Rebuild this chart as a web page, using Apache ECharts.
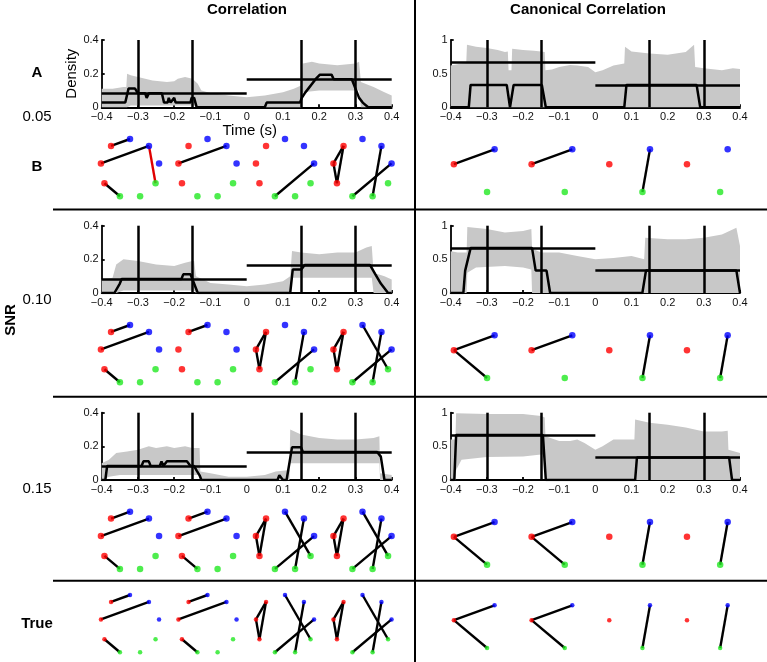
<!DOCTYPE html>
<html><head><meta charset="utf-8">
<script src="https://cdn.jsdelivr.net/npm/echarts@6/dist/echarts.min.js"></script>
<style>html,body{margin:0;padding:0;background:#fff}#c{width:767px;height:662px}</style>
</head><body><div id="c"></div>
<script>
const FONT = 'Liberation Sans';

// ---------------- time-course data ----------------
const stimTimes = [-0.3, -0.15, 0.15, 0.3];
const corrTrueDensity = [0.0833, 0.1667];   // before 0, after 0
const canonTrueDensity = [0.6667, 0.3333];

// Correlation, SNR 0.05
const corr05Hi = [[-0.4,0.11],[-0.37,0.11],[-0.34,0.12],[-0.332,0.12],[-0.33,0.2],[-0.32,0.19],[-0.3,0.18],[-0.28,0.17],[-0.26,0.16],[-0.24,0.155],[-0.22,0.15],[-0.2,0.155],[-0.19,0.17],[-0.17,0.18],[-0.15,0.17],[-0.135,0.14],[-0.125,0.1],[-0.1,0.085],[-0.05,0.07],[0,0.06],[0.05,0.07],[0.1,0.09],[0.13,0.11],[0.15,0.13],[0.155,0.26],[0.18,0.27],[0.2,0.26],[0.25,0.25],[0.3,0.26],[0.31,0.27],[0.315,0.15],[0.35,0.12],[0.38,0.09],[0.4,0.07]];
const corr05Lo = [[-0.4,0],[-0.33,0],[-0.32,0.01],[-0.14,0.01],[-0.13,0],[0.15,0],[0.155,0.09],[0.2,0.1],[0.25,0.1],[0.31,0.1],[0.315,0],[0.4,0]];
const corr05Med = [[-0.4,0.028],[-0.335,0.028],[-0.326,0.111],[-0.308,0.111],[-0.3,0.083],[-0.28,0.083],[-0.276,0.056],[-0.27,0.083],[-0.234,0.083],[-0.228,0.028],[-0.218,0.028],[-0.215,0.056],[-0.21,0.028],[-0.205,0.028],[-0.2,0.056],[-0.196,0.028],[-0.155,0.028],[-0.152,0.056],[-0.145,0.056],[-0.138,0],[0.05,0],[0.055,0.028],[0.147,0.028],[0.152,0.056],[0.16,0.083],[0.17,0.111],[0.19,0.167],[0.202,0.194],[0.234,0.194],[0.24,0.167],[0.29,0.167],[0.3,0.111],[0.31,0.056],[0.32,0.028],[0.335,0],[0.4,0]];

// Canonical correlation, SNR 0.05
const canon05Hi = [[-0.4,0.62],[-0.37,0.65],[-0.357,0.66],[-0.355,0.93],[-0.33,0.9],[-0.3,0.88],[-0.27,0.85],[-0.25,0.82],[-0.242,0.83],[-0.24,0.55],[-0.232,0.55],[-0.23,0.87],[-0.2,0.85],[-0.17,0.84],[-0.15,0.83],[-0.14,0.82],[-0.138,0.55],[-0.12,0.56],[-0.1,0.6],[-0.07,0.63],[-0.05,0.62],[-0.02,0.6],[0,0.52],[0.02,0.55],[0.05,0.62],[0.08,0.65],[0.082,0.9],[0.1,0.83],[0.15,0.8],[0.2,0.78],[0.25,0.82],[0.273,0.93],[0.276,0.6],[0.3,0.58],[0.35,0.55],[0.38,0.58],[0.4,0.57]];
const canon05Lo = [[-0.4,0],[0.4,0]];
const canon05Med = [[-0.4,0],[-0.35,0],[-0.345,0.333],[-0.245,0.333],[-0.236,0],[-0.232,0],[-0.226,0.333],[-0.148,0.333],[-0.137,0],[0.08,0],[0.086,0.333],[0.28,0.333],[0.29,0],[0.4,0]];

// Correlation, SNR 0.10
const corr10Hi = [[-0.4,0.08],[-0.37,0.09],[-0.36,0.17],[-0.34,0.2],[-0.3,0.19],[-0.25,0.17],[-0.2,0.16],[-0.17,0.18],[-0.15,0.19],[-0.145,0.19],[-0.14,0.1],[-0.12,0.08],[-0.1,0.06],[-0.05,0.05],[0,0.04],[0.05,0.05],[0.1,0.07],[0.12,0.1],[0.125,0.25],[0.15,0.24],[0.2,0.23],[0.25,0.24],[0.3,0.24],[0.33,0.27],[0.345,0.28],[0.35,0.12],[0.38,0.1],[0.4,0.08]];
const corr10Lo = [[-0.4,0],[-0.36,0],[-0.34,0.015],[-0.145,0.015],[-0.14,0],[0.12,0],[0.125,0.09],[0.345,0.09],[0.35,0],[0.4,0]];
const corr10Med = [[-0.4,0],[-0.365,0],[-0.35,0.056],[-0.345,0.083],[-0.18,0.083],[-0.175,0.111],[-0.155,0.111],[-0.15,0.083],[-0.135,0],[0.12,0],[0.127,0.139],[0.15,0.139],[0.16,0.167],[0.34,0.167],[0.355,0.111],[0.37,0.056],[0.38,0.028],[0.39,0],[0.4,0]];

// Canonical correlation, SNR 0.10
const canon10Hi = [[-0.4,0.62],[-0.38,0.6],[-0.356,0.6],[-0.354,0.98],[-0.3,0.95],[-0.25,0.9],[-0.2,0.92],[-0.177,0.95],[-0.175,0.66],[-0.15,0.6],[-0.12,0.6],[-0.1,0.6],[-0.05,0.55],[0,0.5],[0.05,0.52],[0.1,0.55],[0.135,0.5],[0.138,0.82],[0.2,0.8],[0.25,0.8],[0.3,0.82],[0.35,0.87],[0.39,0.97],[0.4,0.7]];
const canon10Lo = [[-0.4,0],[-0.356,0],[-0.354,0.3],[-0.33,0.38],[-0.25,0.4],[-0.2,0.38],[-0.177,0.35],[-0.175,0],[0.4,0]];
const canon10Med = [[-0.4,0],[-0.365,0],[-0.36,0.333],[-0.355,0.333],[-0.345,0.667],[-0.175,0.667],[-0.165,0.333],[-0.135,0.333],[-0.125,0],[0.13,0],[0.14,0.333],[0.39,0.333],[0.4,0]];

// Correlation, SNR 0.15
const corr15Hi = [[-0.4,0.1],[-0.38,0.12],[-0.36,0.16],[-0.33,0.17],[-0.3,0.18],[-0.27,0.2],[-0.25,0.19],[-0.22,0.2],[-0.2,0.19],[-0.17,0.2],[-0.15,0.19],[-0.13,0.19],[-0.128,0.05],[-0.1,0.04],[-0.05,0.02],[0,0.02],[0.05,0.03],[0.08,0.05],[0.118,0.06],[0.12,0.3],[0.15,0.27],[0.2,0.25],[0.25,0.24],[0.3,0.24],[0.35,0.25],[0.366,0.26],[0.368,0.04],[0.4,0.03]];
const corr15Lo = [[-0.4,0],[-0.38,0.02],[-0.35,0.03],[-0.13,0.03],[-0.128,0],[0.118,0],[0.12,0.1],[0.366,0.1],[0.368,0],[0.4,0]];
const corr15Med = [[-0.4,0],[-0.39,0],[-0.385,0.083],[-0.29,0.083],[-0.285,0.111],[-0.27,0.111],[-0.265,0.083],[-0.24,0.083],[-0.235,0.111],[-0.23,0.083],[-0.22,0.111],[-0.165,0.111],[-0.155,0.083],[-0.145,0.083],[-0.138,0.056],[-0.13,0.028],[-0.125,0],[0.085,0],[0.09,0.028],[0.095,0.028],[0.1,0],[0.11,0],[0.125,0.194],[0.15,0.194],[0.155,0.167],[0.36,0.167],[0.37,0.139],[0.38,0],[0.4,0]];

// Canonical correlation, SNR 0.15
const canon15Hi = [[-0.4,0.6],[-0.387,0.6],[-0.385,0.99],[-0.3,0.98],[-0.2,0.98],[-0.15,0.95],[-0.14,0.93],[-0.138,0.65],[-0.1,0.58],[-0.07,0.58],[-0.05,0.6],[-0.03,0.55],[0,0.45],[0.02,0.5],[0.05,0.6],[0.1,0.6],[0.108,0.6],[0.11,0.9],[0.15,0.85],[0.2,0.82],[0.25,0.78],[0.3,0.72],[0.35,0.72],[0.366,0.73],[0.368,0.45],[0.4,0.4]];
const canon15Lo = [[-0.4,0],[-0.387,0],[-0.385,0.15],[-0.37,0.3],[-0.3,0.34],[-0.2,0.35],[-0.15,0.38],[-0.14,0.38],[-0.138,0],[0.4,0]];
const canon15Med = [[-0.4,0],[-0.39,0],[-0.385,0.667],[-0.145,0.667],[-0.137,0],[0.11,0],[0.115,0.333],[0.37,0.333],[0.378,0],[0.4,0]];

// ---------------- network data ----------------
const corrNodes = ['B0','B1','B2','G0','G1','G2','R2','R1','R0'];
const canonNodes = ['B','G','R'];
const canonSlot = {B:1, G:4, R:7};

const corrEdgesB    = [['R0-B0','R1-B1','B1-G0','R2-G2'],['R1-B1'],['G2-B2'],['R0-R1','R1-R2','R2-R0','G2-B2','G1-B1']];
const corrNegB      = [['B1-G0'],[],[],[]];
const corrEdges10   = [['R0-B0','R1-B1','R2-G2'],['R0-B0'],['R0-R1','R1-R2','R2-R0','B1-G1','B2-G2'],['R0-R1','R1-R2','R2-R0','B0-G0','B1-G1','B2-G2']];
const corrEdges15   = [['R0-B0','R1-B1','R2-G2'],['R0-B0','R1-B1','R2-G2'],['R0-R1','R1-R2','R2-R0','B0-G0','B1-G1','B2-G2'],['R0-R1','R1-R2','R2-R0','B0-G0','B1-G1','B2-G2']];
const corrEdgesTrue = [['R0-B0','R1-B1','R2-G2'],['R0-B0','R1-B1','R2-G2'],['R0-R1','R1-R2','R2-R0','B0-G0','B1-G1','B2-G2'],['R0-R1','R1-R2','R2-R0','B0-G0','B1-G1','B2-G2']];

const canonEdgesB    = [['R-B'],['R-B'],['B-G'],[]];
const canonEdges10   = [['R-B','R-G'],['R-B'],['B-G'],['B-G']];
const canonEdges15   = [['R-B','R-G'],['R-B','R-G'],['B-G'],['B-G']];
const canonEdgesTrue = [['R-B','R-G'],['R-B','R-G'],['B-G'],['B-G']];

// ---------------- layout ----------------
const plotCols = [{left:101.7, width:290}, {left:450.7, width:289.3}];
const plotTops = [40, 225.7, 412.7];
const plotH = 67.3;
const netRowY = [168.5, 354.5, 541.2, 624.5];
const netLeftX = [130, 207.5, 285, 362.5];
const netRightX = [478.5, 556.2, 633.9, 711.6];
const ringR = 29.5, canonR = 25;
const colorOf = {R:'#ff0000', B:'#0000ff', G:'#22e822'};

const panels = [
  {col:0,row:0,hi:corr05Hi,lo:corr05Lo,med:corr05Med,truth:corrTrueDensity,ymax:0.4,yint:0.2,names:true},
  {col:1,row:0,hi:canon05Hi,lo:canon05Lo,med:canon05Med,truth:canonTrueDensity,ymax:1,yint:0.5},
  {col:0,row:1,hi:corr10Hi,lo:corr10Lo,med:corr10Med,truth:corrTrueDensity,ymax:0.4,yint:0.2},
  {col:1,row:1,hi:canon10Hi,lo:canon10Lo,med:canon10Med,truth:canonTrueDensity,ymax:1,yint:0.5},
  {col:0,row:2,hi:corr15Hi,lo:corr15Lo,med:corr15Med,truth:corrTrueDensity,ymax:0.4,yint:0.2},
  {col:1,row:2,hi:canon15Hi,lo:canon15Lo,med:canon15Med,truth:canonTrueDensity,ymax:1,yint:0.5}
];

function fmt(v){ const r = Math.round(v*10)/10; return String(r).replace('-', '\u2212'); }

const grids = [], xAxes = [], yAxes = [], series = [];
panels.forEach((p,i)=>{
  grids.push({left:plotCols[p.col].left, width:plotCols[p.col].width, top:plotTops[p.row], height:plotH});
  xAxes.push({gridIndex:i, type:'value', min:-0.4, max:0.4, interval:0.1,
    axisLine:{show:true,onZero:false,lineStyle:{color:'#000',width:1.8}},
    axisTick:{show:true,inside:true,length:3,lineStyle:{color:'#000',width:1.8}},
    axisLabel:{color:'#111',fontSize:11,margin:4,fontFamily:FONT,formatter:fmt,showMinLabel:true,showMaxLabel:true,hideOverlap:false},
    splitLine:{show:false},
    name:p.names?'Time (s)':'', nameLocation:'middle', nameGap:3,
    nameTextStyle:{color:'#000',fontSize:15,fontFamily:FONT,padding:[0,0,0,6]}});
  yAxes.push({gridIndex:i, type:'value', min:0, max:p.ymax, interval:p.yint,
    axisLine:{show:true,onZero:false,lineStyle:{color:'#000',width:1.8}},
    axisTick:{show:true,inside:true,length:3,lineStyle:{color:'#000',width:1.8}},
    axisLabel:{color:'#111',fontSize:11,margin:3,fontFamily:FONT,formatter:fmt,showMinLabel:true,showMaxLabel:true},
    splitLine:{show:false},
    name:p.names?'Density':'', nameLocation:'middle', nameGap:21, nameRotate:90,
    nameTextStyle:{color:'#000',fontSize:15,fontFamily:FONT}});
  series.push({type:'custom', xAxisIndex:i, yAxisIndex:i, data:[[-0.4,0]], silent:true, z:1,
    renderItem:(params, api)=>{
      const pts = p.hi.map(d=>api.coord(d)).concat(p.lo.slice().reverse().map(d=>api.coord(d)));
      return {type:'polygon', shape:{points:pts}, style:{fill:'#c8c8c8'}};
    }});
  series.push({type:'line', xAxisIndex:i, yAxisIndex:i, data:p.med, symbol:'none', showSymbol:false,
    lineStyle:{color:'#000',width:2.5}, z:3, silent:true,
    markLine:{silent:true, symbol:['none','none'], label:{show:false},
      lineStyle:{color:'#000',width:2.5,type:'solid'},
      data: stimTimes.map(t=>({xAxis:t})).concat([
        [{coord:[-0.4,p.truth[0]]},{coord:[0,p.truth[0]]}],
        [{coord:[0,p.truth[1]]},{coord:[0.4,p.truth[1]]}]
      ])}});
});

// network overlay grid
const NG = panels.length;
grids.push({left:0, top:0, width:767, height:662});
xAxes.push({gridIndex:NG, type:'value', min:0, max:767, show:false});
yAxes.push({gridIndex:NG, type:'value', min:0, max:662, inverse:true, show:false});

function ringPos(cx, cy, r, slot){ const a = slot*40*Math.PI/180; return [cx + r*Math.sin(a), cy - r*Math.cos(a)]; }

const nodeData = [], edgeData = [];
const corrRows = [corrEdgesB, corrEdges10, corrEdges15, corrEdgesTrue];
const canonRows = [canonEdgesB, canonEdges10, canonEdges15, canonEdgesTrue];
for (let r=0;r<4;r++){
  const size = r===3 ? 4.5 : 6.5;
  for (let k=0;k<4;k++){
    const pos = {};
    corrNodes.forEach((n,s)=>{ pos[n] = ringPos(netLeftX[k], netRowY[r], ringR, s); });
    corrRows[r][k].forEach(e=>{
      const [a,b] = e.split('-');
      const neg = r===0 && corrNegB[k].indexOf(e)>=0;
      edgeData.push({coords:[pos[a],pos[b]], lineStyle:{color: neg?'#e00000':'#000'}});
    });
    corrNodes.forEach(n=>nodeData.push({value:pos[n], symbolSize:size, itemStyle:{color:colorOf[n[0]]}}));
    const cpos = {};
    canonNodes.forEach(n=>{ cpos[n] = ringPos(netRightX[k], netRowY[r], canonR, canonSlot[n]); });
    canonRows[r][k].forEach(e=>{
      const [a,b] = e.split('-');
      edgeData.push({coords:[cpos[a],cpos[b]], lineStyle:{color:'#000'}});
    });
    canonNodes.forEach(n=>nodeData.push({value:cpos[n], symbolSize:size, itemStyle:{color:colorOf[n]}}));
  }
}
series.push({type:'lines', coordinateSystem:'cartesian2d', xAxisIndex:NG, yAxisIndex:NG, polyline:false,
  data:edgeData, lineStyle:{color:'#000', width:2.4, opacity:1}, z:5, silent:true, effect:{show:false}});
series.push({type:'scatter', xAxisIndex:NG, yAxisIndex:NG, data:nodeData, z:6, silent:true});

function txt(x,y,text,size,bold,rot){
  return {type:'text', x:x, y:y, rotation:rot||0, z:10, silent:true,
    style:{text:text, font:(bold?'bold ':'')+size+'px '+FONT, fill:'#000',
      align:'center', verticalAlign:'middle', textAlign:'center', textVerticalAlign:'middle'}};
}
function ln(x1,y1,x2,y2){ return {type:'line', z:10, silent:true, shape:{x1,y1,x2,y2}, style:{stroke:'#000', lineWidth:2}}; }
const graphic = [
  txt(247,10,'Correlation',15,true),
  txt(588,10,'Canonical Correlation',15,true),
  txt(37,73,'A',15,true),
  txt(37,117,'0.05',15,false),
  txt(37,167,'B',15,true),
  txt(11,320,'SNR',15,true,Math.PI/2),
  txt(37,300,'0.10',15,false),
  txt(37,489,'0.15',15,false),
  txt(37,624,'True',15,true),
  ln(415,0,415,662),
  ln(53,209.5,767,209.5),
  ln(53,396.7,767,396.7),
  ln(53,580.7,767,580.7)
];

const chart = echarts.init(document.getElementById('c'), null, {renderer:'canvas'});
chart.setOption({animation:false, textStyle:{fontFamily:FONT}, grid:grids, xAxis:xAxes, yAxis:yAxes, series:series, graphic:graphic});
</script></body></html>
